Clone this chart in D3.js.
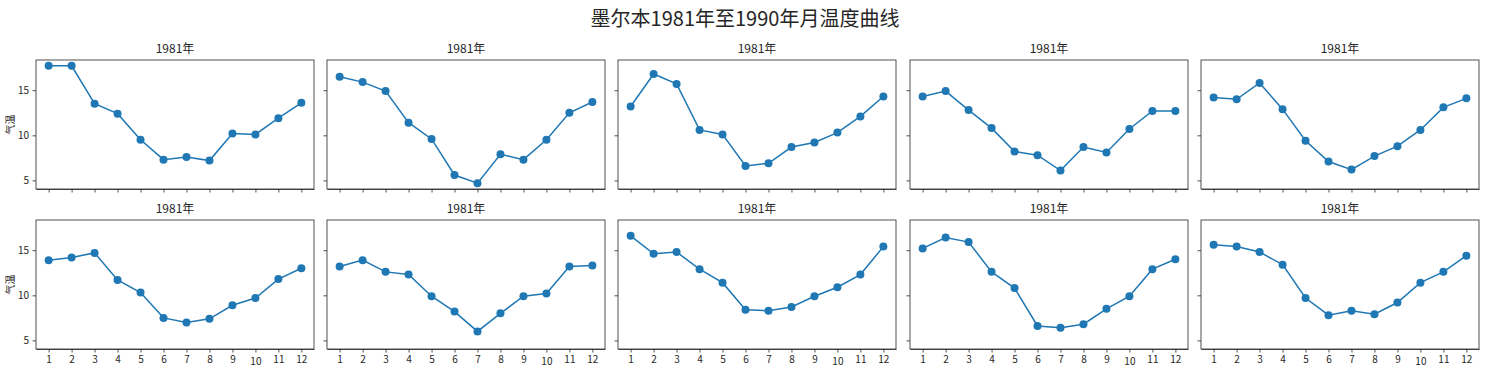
<!DOCTYPE html>
<html>
<head>
<meta charset="utf-8">
<script src="https://cdn.jsdelivr.net/npm/d3@7"></script>
<style>
    body { margin: 0; background: #fff; }
    svg text { font-family: "Noto Sans CJK SC", "DejaVu Sans", sans-serif; fill: #262626; }
    .axisG path, .axisG line { stroke: #262626; stroke-width: 0.8; }
    .axisG text { font-size: 10px; }
</style>
</head>
<body>
<div id="chart"></div>
<script>
// data
const months = [1, 2, 3, 4, 5, 6, 7, 8, 9, 10, 11, 12];
const panelTitles = ["1981年", "1981年", "1981年", "1981年", "1981年",
                     "1981年", "1981年", "1981年", "1981年", "1981年"];
const yTicks = [5, 10, 15];
const mainTitle = "墨尔本1981年至1990年月温度曲线";
const yLabel = "气温";

const temp1 = [17.7, 17.7, 13.5, 12.4, 9.5, 7.3, 7.6, 7.2, 10.2, 10.1, 11.9, 13.6];
const temp2 = [16.5, 15.9, 14.9, 11.4, 9.6, 5.6, 4.7, 7.9, 7.3, 9.5, 12.5, 13.7];
const temp3 = [13.2, 16.8, 15.7, 10.6, 10.1, 6.6, 6.9, 8.7, 9.2, 10.3, 12.1, 14.3];
const temp4 = [14.3, 14.9, 12.8, 10.8, 8.2, 7.8, 6.1, 8.7, 8.1, 10.7, 12.7, 12.7];
const temp5 = [14.2, 14.0, 15.8, 12.9, 9.4, 7.1, 6.2, 7.7, 8.8, 10.6, 13.1, 14.1];
const temp6 = [13.9, 14.2, 14.7, 11.7, 10.3, 7.5, 7.0, 7.4, 8.9, 9.7, 11.8, 13.0];
const temp7 = [13.2, 13.9, 12.6, 12.3, 9.9, 8.2, 6.0, 8.0, 9.9, 10.2, 13.2, 13.3];
const temp8 = [16.6, 14.6, 14.8, 12.9, 11.4, 8.4, 8.3, 8.7, 9.9, 10.9, 12.3, 15.4];
const temp9 = [15.2, 16.4, 15.9, 12.6, 10.8, 6.6, 6.4, 6.8, 8.5, 9.9, 12.9, 14.0];
const temp10 = [15.6, 15.4, 14.8, 13.4, 9.7, 7.8, 8.3, 7.9, 9.2, 11.4, 12.6, 14.4];

const allTemps = [temp1, temp2, temp3, temp4, temp5, temp6, temp7, temp8, temp9, temp10];

const size = {width: 1490, height: 381};
const panelW = 278, panelH = 129;
const colLeft = [36, 327, 618, 910, 1201];
const rowTop = [60, 220];
const lineColor = "#1f77b4";

const svg = d3.select("#chart").append("svg")
    .attr("width", size.width)
    .attr("height", size.height);

svg.append("text")
    .attr("x", 745)
    .attr("y", 26)
    .attr("text-anchor", "middle")
    .style("font-size", "20px")
    .text(mainTitle);

// shared scales (sharex / sharey), with matplotlib-like 5% margins
const allVals = allTemps.flat();
const yMin = d3.min(allVals), yMax = d3.max(allVals);
const yPad = (yMax - yMin) * 0.05;
const xScale = d3.scaleLinear()
    .domain([1 - 0.55, 12 + 0.55])
    .range([0, panelW]);
const yScale = d3.scaleLinear()
    .domain([yMin - yPad, yMax + yPad])
    .range([panelH, 0]);

const line = d3.line()
    .x((d, i) => xScale(months[i]))
    .y(d => yScale(d));

allTemps.forEach((temps, k) => {
    const row = Math.floor(k / 5), col = k % 5;
    const g = svg.append("g")
        .attr("transform", "translate(" + colLeft[col] + "," + rowTop[row] + ")");

    g.append("text")
        .attr("x", panelW / 2)
        .attr("y", -7)
        .attr("text-anchor", "middle")
        .style("font-size", "12px")
        .text(panelTitles[k]);

    // x axis
    const xAxis = g.append("g")
        .attr("class", "axisG")
        .attr("transform", "translate(0," + panelH + ")")
        .call(d3.axisBottom(xScale).tickValues(months).tickFormat(d3.format("d"))
            .tickSizeInner(3.5).tickSizeOuter(0).tickPadding(3.5));
    if (row === 0) xAxis.selectAll("text").remove();
    else xAxis.selectAll("text").filter(d => d === 10).attr("dy", "0.9em");

    // y axis
    const yAxis = g.append("g")
        .attr("class", "axisG")
        .call(d3.axisLeft(yScale).tickValues(yTicks)
            .tickSizeInner(3.5).tickSizeOuter(0).tickPadding(3.5));
    if (col !== 0) yAxis.selectAll("text").remove();
    yAxis.select(".domain").remove();

    // frame
    g.append("rect")
        .attr("width", panelW)
        .attr("height", panelH)
        .attr("fill", "none")
        .attr("stroke", "#262626")
        .attr("stroke-width", 0.8);

    if (col === 0) {
        g.append("text")
            .attr("transform", "translate(-22," + panelH / 2 + ") rotate(-90)")
            .attr("text-anchor", "middle")
            .style("font-size", "10px")
            .text(yLabel);
    }

    g.append("path")
        .datum(temps)
        .attr("fill", "none")
        .attr("stroke", lineColor)
        .attr("stroke-width", 1.5)
        .attr("d", line);

    g.selectAll(".dot")
        .data(temps)
        .join("circle")
        .attr("class", "dot")
        .attr("cx", (d, i) => xScale(months[i]))
        .attr("cy", d => yScale(d))
        .attr("r", 4)
        .attr("fill", lineColor);
});
</script>
</body>
</html>
